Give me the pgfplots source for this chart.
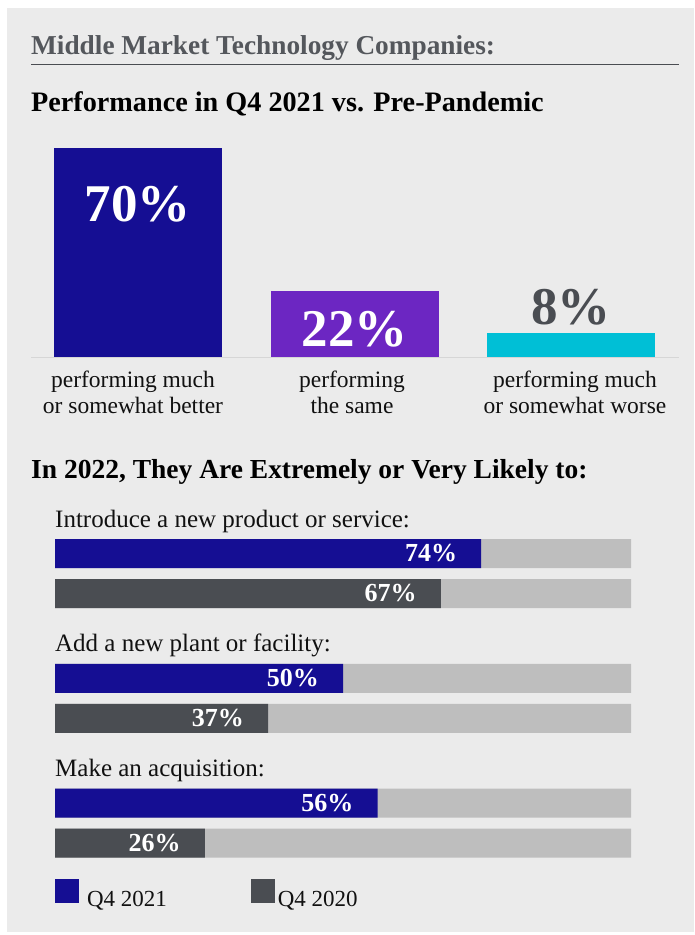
\documentclass[border=0pt]{standalone}
\usepackage{fontspec}
\setmainfont{Liberation Serif}
\usepackage{pgfplots}
\pgfplotsset{compat=1.18}
\definecolor{panel}{HTML}{EBEBEB}
\definecolor{titlegray}{HTML}{54575C}
\definecolor{rulegray}{HTML}{4A4D52}
\definecolor{basegray}{HTML}{D6D6D6}
\definecolor{qblue}{HTML}{150E93}
\definecolor{qpurple}{HTML}{6C26C2}
\definecolor{qcyan}{HTML}{00BFD6}
\definecolor{qgray}{HTML}{4A4D52}
\definecolor{lightbar}{HTML}{BEBEBE}
\definecolor{txt}{HTML}{111111}
\newcommand{\fs}[1]{\fontsize{#1}{#1}\selectfont}
\begin{document}
\begin{tikzpicture}
\useasboundingbox (0,0) rectangle (694pt,-935pt);
\fill[white] (0,0) rectangle (694pt,-935pt);
\fill[panel] (7pt,-8pt) rectangle (694pt,-932pt);
% titles
\node[anchor=base west, inner sep=0pt, text=titlegray, font=\bfseries\fs{27.3}] at (31pt,-54pt) {Middle Market Technology Companies:};
\draw[rulegray, line width=1.4pt] (31pt,-64.3pt) -- (679pt,-64.3pt);
\node[anchor=base west, inner sep=0pt, text=black, font=\bfseries\fs{28.2}] at (31pt,-111.7pt) {Performance in Q4 2021 vs. Pre-Pandemic};
\draw[basegray, line width=1pt] (31pt,-357.6pt) -- (679pt,-357.6pt);
% vertical bars
\begin{axis}[at={(31pt,-357pt)}, anchor=south west, scale only axis,
  width=648pt, height=209pt, xmin=-0.4942, xmax=2.4988, ymin=0, ymax=70,
  hide axis, ybar, bar width=168pt, bar shift=0pt, point meta=y,
  /pgf/number format/assume math mode=true,
  nodes near coords={\pgfmathprintnumber{\pgfplotspointmeta}\%},
  every node near coord/.append style={inner sep=0pt, font=\bfseries\fs{53}}]
\addplot[fill=qblue, draw=none, every node near coord/.append style={anchor=base, yshift=-73.7pt, text=white}] coordinates {(0,70)};
\addplot[fill=qpurple, draw=none, every node near coord/.append style={anchor=base, yshift=-55pt, text=white}] coordinates {(1,22)};
\addplot[fill=qcyan, draw=none, every node near coord/.append style={anchor=base, yshift=9pt, text=qgray}] coordinates {(2,8)};
\end{axis}
% category labels
\begin{scope}[every node/.style={anchor=base, inner sep=0pt, text=txt, font=\fs{23.5}}]
\node at (133pt,-387pt) {performing much};
\node at (133pt,-413pt) {or somewhat better};
\node at (352pt,-387pt) {performing};
\node at (352pt,-413pt) {the same};
\node at (575pt,-387pt) {performing much};
\node at (575pt,-413pt) {or somewhat worse};
\end{scope}
% second heading
\node[anchor=base west, inner sep=0pt, text=black, font=\bfseries\fs{27.5}] at (31pt,-478pt) {In 2022, They Are Extremely or Very Likely to:};
\begin{scope}[every node/.style={anchor=base west, inner sep=0pt, text=txt, font=\fs{25}}]
\node at (55pt,-527pt) {Introduce a new product or service:};
\node at (55pt,-651pt) {Add a new plant or facility:};
\node at (55pt,-776pt) {Make an acquisition:};
\end{scope}
% horizontal bars
\begin{axis}[at={(55pt,-885.375pt)}, anchor=south west, scale only axis,
  width=576pt, height=374.25pt, xmin=0, xmax=100, ymin=-0.5, ymax=2.5,
  hide axis, xbar, bar width=29pt, point meta=x,
  /pgf/number format/assume math mode=true,
  legend style={at={(axis description cs:0,0)}, anchor=north west, yshift=6.1pt,
    draw=none, fill=none, inner sep=0pt, outer sep=0pt, font=\fs{23},
    text=txt, cells={anchor=west},
    /tikz/column 1/.style={column sep=6pt},
    /tikz/column 2/.style={column sep=82pt},
    /tikz/column 3/.style={column sep=1pt}},
  legend columns=2,
  legend image code/.code={\fill[#1] (0pt,-3.4pt) rectangle (24pt,20pt);}]
\addplot[fill=lightbar, draw=none, bar shift=20pt, forget plot] coordinates {(100,0) (100,1) (100,2)};
\addplot[fill=lightbar, draw=none, bar shift=-20pt, forget plot] coordinates {(100,0) (100,1) (100,2)};
\addplot[fill=qblue, draw=none, bar shift=20pt,
  nodes near coords={\pgfmathprintnumber{\pgfplotspointmeta}\%},
  every node near coord/.append style={anchor=east, xshift=-24pt, inner sep=0pt, text=white, font=\bfseries\fs{26}}]
  coordinates {(56,0) (50,1) (74,2)};
\addlegendentry{Q4 2021}
\addplot[fill=qgray, draw=none, bar shift=-20pt,
  nodes near coords={\pgfmathprintnumber{\pgfplotspointmeta}\%},
  every node near coord/.append style={anchor=east, xshift=-24pt, inner sep=0pt, text=white, font=\bfseries\fs{26}}]
  coordinates {(26,0) (37,1) (67,2)};
\addlegendentry{Q4 2020}
\end{axis}
\end{tikzpicture}
\end{document}
